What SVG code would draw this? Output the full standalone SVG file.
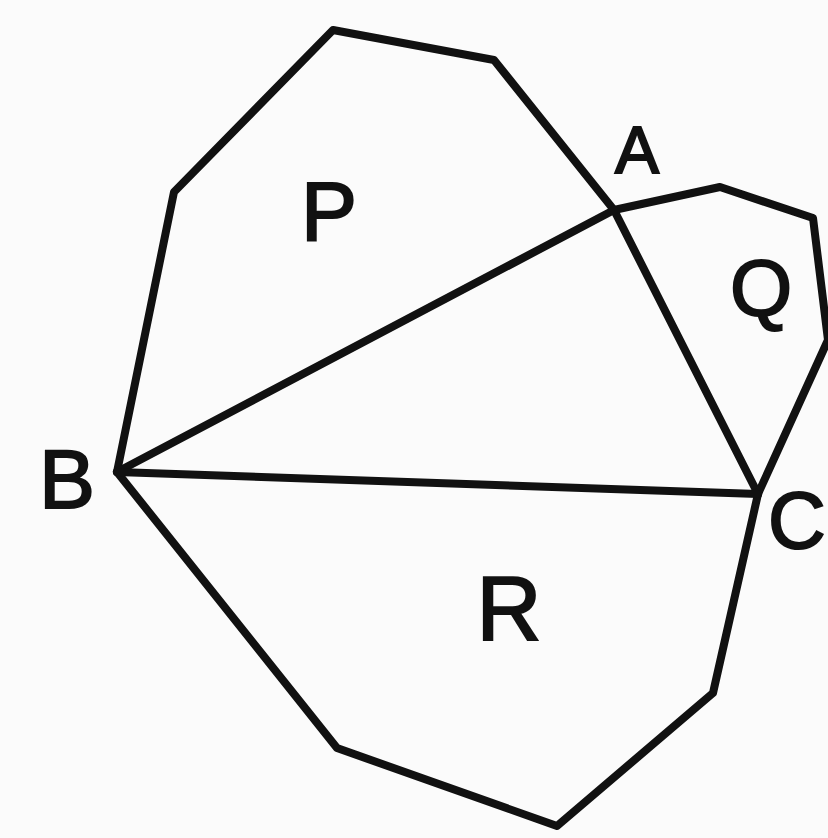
<svg xmlns="http://www.w3.org/2000/svg" width="828" height="838" viewBox="0 0 828 838">
<style>
.ln{fill:none;stroke:#111;stroke-width:8;stroke-linejoin:round;stroke-linecap:round}
.lb{font-family:"Liberation Sans",Arial,sans-serif;fill:#111;stroke:#111;stroke-width:2}
</style>
<rect width="828" height="838" fill="#fbfbfb"/>
<g id="edges">
<polyline class="ln" points="117,472 174,192 333,30 494,60 614,210 758,494"/>
<polyline class="ln" points="614,210 720,187 813,218 828,340 758,494 713,693 557,826 337,748 117,472"/>
<line class="ln" x1="117" y1="472" x2="614" y2="210"/>
<line class="ln" x1="117" y1="472" x2="758" y2="494"/>
</g>
<g id="A"><text class="lb" x="637" y="173" font-size="66" text-anchor="middle">A</text></g>
<g id="B"><text class="lb" x="67" y="508" font-size="84" text-anchor="middle">B</text></g>
<g id="C"><text class="lb" x="768" y="548" font-size="80">C</text></g>
<g id="P"><text class="lb" x="329" y="240" font-size="84" text-anchor="middle">P</text></g>
<g id="Q"><text class="lb" x="761" y="316" font-size="80" text-anchor="middle">Q</text></g>
<g id="R"><text class="lb" x="509" y="640" font-size="90" text-anchor="middle">R</text></g>
</svg>
